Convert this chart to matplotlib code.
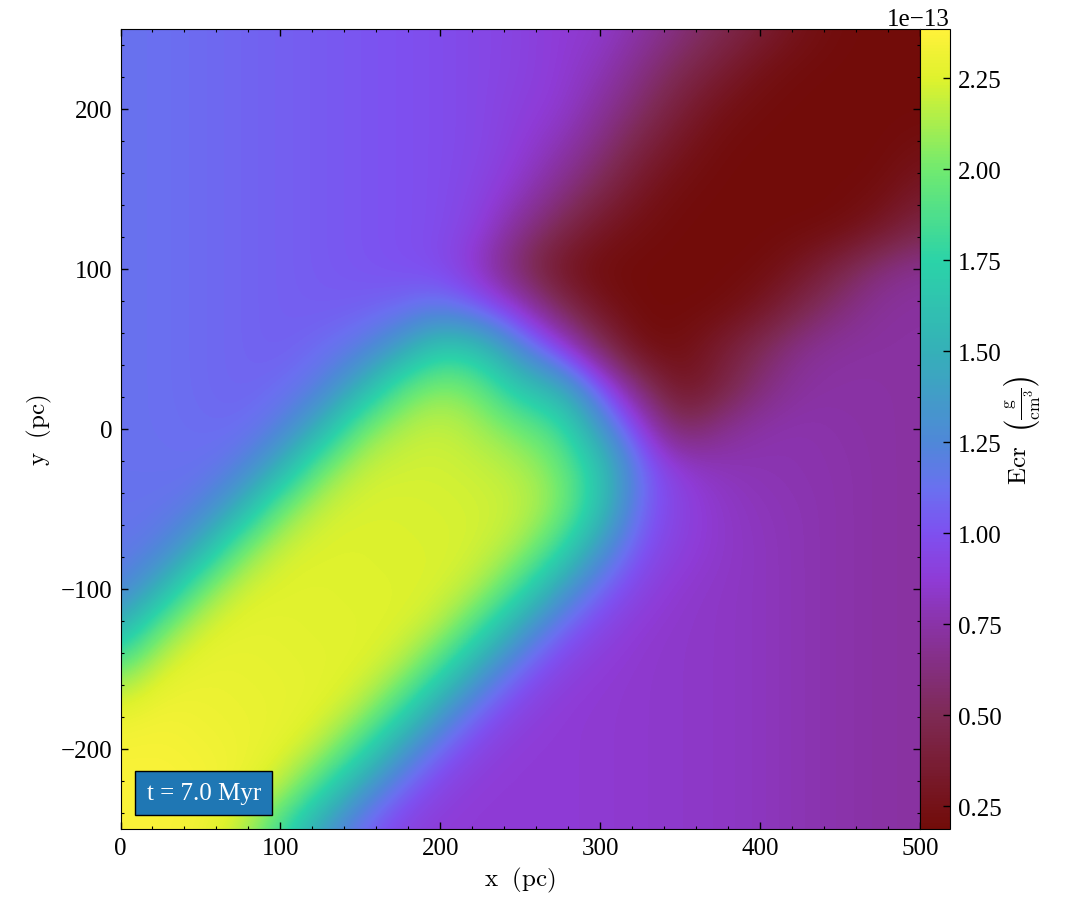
import numpy as np
import matplotlib
matplotlib.use("Agg")
import matplotlib.pyplot as plt
from matplotlib.colors import LinearSegmentedColormap
from matplotlib.ticker import MultipleLocator

plt.rcParams['font.family'] = ['Liberation Serif', 'DejaVu Serif']
plt.rcParams['mathtext.fontset'] = 'cm'
plt.rcParams['axes.unicode_minus'] = True

x_pc = list(range(0, 501, 25))
y_pc = list(range(250, -251, -25))

# Ecr in units of 1e-13, one row per y (top to bottom)
ecr = [
 [1.13,1.12,1.10,1.08,1.06,1.04,1.02,1.00,.98,.95,.92,.87,.85,.75,.62,.50,.38,.26,.20,.19,.19],
 [1.13,1.12,1.10,1.08,1.06,1.04,1.02,1.00,.98,.95,.92,.87,.80,.65,.50,.37,.25,.20,.19,.19,.19],
 [1.13,1.12,1.10,1.08,1.06,1.04,1.02,1.00,.98,.95,.90,.86,.72,.56,.38,.25,.20,.19,.19,.19,.19],
 [1.13,1.12,1.10,1.08,1.06,1.04,1.02,1.00,.98,.95,.88,.78,.62,.42,.28,.20,.19,.19,.19,.19,.23],
 [1.13,1.12,1.10,1.08,1.06,1.04,1.02,1.00,.98,.93,.83,.66,.48,.30,.21,.19,.19,.19,.19,.21,.32],
 [1.13,1.12,1.10,1.08,1.06,1.04,1.02,1.00,.98,.90,.68,.48,.30,.22,.19,.19,.19,.19,.21,.31,.46],
 [1.13,1.12,1.10,1.08,1.06,1.04,1.02,1.00,.97,.80,.52,.28,.20,.19,.19,.19,.20,.30,.46,.63,.70],
 [1.13,1.12,1.10,1.08,1.06,1.05,1.06,1.09,1.17,1.05,.85,.52,.27,.19,.19,.20,.30,.47,.62,.72,.73],
 [1.13,1.12,1.10,1.08,1.06,1.10,1.18,1.40,1.72,1.62,1.25,.95,.55,.22,.22,.36,.52,.68,.73,.73,.73],
 [1.13,1.12,1.10,1.08,1.10,1.20,1.50,1.93,2.08,1.97,1.65,1.50,1.05,.60,.27,.42,.62,.73,.74,.74,.73],
 [1.13,1.12,1.11,1.10,1.20,1.50,2.00,2.16,2.20,2.12,2.00,1.85,1.35,.92,.52,.68,.76,.77,.75,.74,.73],
 [1.13,1.13,1.12,1.20,1.50,2.00,2.20,2.22,2.22,2.20,2.15,2.00,1.65,1.10,.88,.80,.78,.77,.76,.74,.73],
 [1.14,1.14,1.20,1.50,2.00,2.21,2.24,2.24,2.23,2.22,2.19,2.05,1.62,1.07,.92,.84,.80,.78,.76,.74,.73],
 [1.15,1.20,1.50,2.00,2.22,2.25,2.25,2.24,2.24,2.22,2.12,1.80,1.32,1.00,.90,.84,.81,.78,.76,.74,.73],
 [1.20,1.50,2.00,2.23,2.26,2.26,2.25,2.25,2.24,2.14,1.82,1.38,1.07,.92,.85,.83,.81,.78,.76,.74,.73],
 [1.50,2.00,2.24,2.28,2.27,2.26,2.26,2.25,2.15,1.82,1.38,1.07,.93,.86,.84,.83,.81,.78,.76,.74,.73],
 [2.00,2.25,2.30,2.29,2.28,2.27,2.26,2.15,1.82,1.38,1.07,.92,.87,.85,.84,.83,.81,.78,.76,.74,.73],
 [2.28,2.33,2.31,2.30,2.29,2.27,2.16,1.82,1.38,1.07,.92,.87,.86,.85,.84,.83,.81,.78,.76,.74,.73],
 [2.35,2.35,2.33,2.31,2.28,2.16,1.82,1.38,1.07,.92,.87,.87,.86,.85,.84,.83,.81,.78,.76,.74,.73],
 [2.36,2.37,2.35,2.31,2.17,1.80,1.38,1.07,.92,.87,.87,.87,.86,.85,.84,.83,.81,.78,.76,.74,.73],
 [2.37,2.36,2.32,2.17,1.80,1.38,1.07,.92,.87,.87,.87,.87,.86,.85,.84,.83,.81,.78,.76,.74,.73],
]

cbar_ticks = [0.25, 0.50, 0.75, 1.00, 1.25, 1.50, 1.75, 2.00, 2.25]
vmin, vmax = 0.187, 2.385

cmap_levels = [0.187, 0.50, 0.75, 0.87, 1.00, 1.12, 1.25, 1.50, 1.75, 2.00, 2.25, 2.385]
cmap_colors = ['#720c09', '#7e2a55', '#8a33a8', '#8f3bd6', '#7e50f0', '#6a70f0',
               '#4f88d8', '#35b0b8', '#2bd3a8', '#70ea70', '#def22d', '#fff23a']
cmap = LinearSegmentedColormap.from_list(
    'ecr', [((l - vmin) / (vmax - vmin), c) for l, c in zip(cmap_levels, cmap_colors)], N=256)

W, H = 1085, 920
fig = plt.figure(figsize=(W / 100, H / 100), dpi=100)
ax = fig.add_axes([120.5 / W, (H - 830) / H, 799.5 / W, 800 / H])
cax = fig.add_axes([920 / W, (H - 830) / H, 30 / W, 800 / H])

half_x = (x_pc[1] - x_pc[0]) / 2
half_y = (y_pc[0] - y_pc[1]) / 2
mesh = ax.imshow(np.array(ecr) * 1e-13, cmap=cmap, vmin=vmin * 1e-13, vmax=vmax * 1e-13,
                 interpolation='bicubic', aspect='auto', origin='upper',
                 extent=(x_pc[0] - half_x, x_pc[-1] + half_x, y_pc[-1] - half_y, y_pc[0] + half_y))
ax.set_xlim(0, 500)
ax.set_ylim(-250, 250)
ax.set_xticks([0, 100, 200, 300, 400, 500])
ax.set_yticks([-200, -100, 0, 100, 200])
ax.xaxis.set_minor_locator(MultipleLocator(20))
ax.yaxis.set_minor_locator(MultipleLocator(20))
ax.tick_params(which='major', direction='in', top=True, right=True, length=5, width=1, labelsize=18, pad=6)
ax.tick_params(which='minor', direction='in', top=True, right=True, length=2.5, width=0.8)
ax.set_xlabel(r'$\mathrm{x}\ \ (\mathrm{pc})$', fontsize=18, labelpad=4)
ax.set_ylabel(r'$\mathrm{y}\ \ (\mathrm{pc})$', fontsize=18, labelpad=5)

ax.text(52, -227.5, 't = 7.0 Myr', color='white', fontsize=18, ha='center', va='center',
        bbox=dict(boxstyle='square,pad=0.45', facecolor='#1f77b4', edgecolor='black', linewidth=1))

cb = fig.colorbar(mesh, cax=cax)
cb.set_ticks([t * 1e-13 for t in cbar_ticks])
cb.minorticks_off()
cb.ax.tick_params(which='major', direction='in', length=5, width=1, labelsize=18, pad=6)
cb.ax.yaxis.get_offset_text().set_fontsize(18)
cb.set_label(r'$\mathrm{Ecr}\ \ \left(\frac{\mathrm{g}}{\mathrm{cm}^3}\right)$', fontsize=18, labelpad=0)

fig.savefig('out.png', dpi=100)
